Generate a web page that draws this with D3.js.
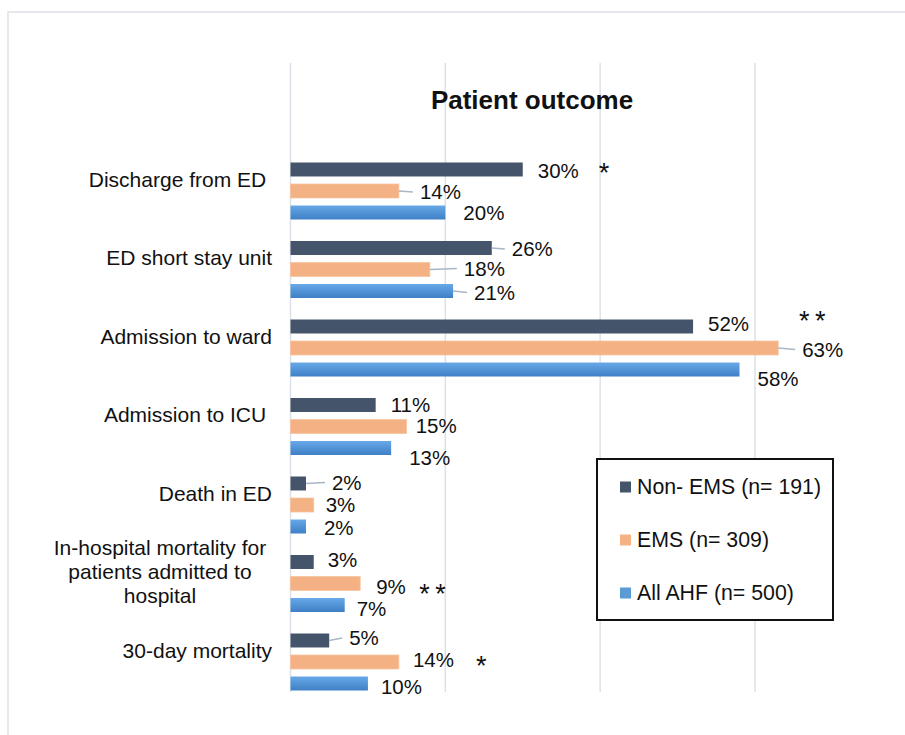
<!DOCTYPE html>
<html>
<head>
<meta charset="utf-8">
<script src="https://cdn.jsdelivr.net/npm/d3@7"></script>
<style>
  html, body { margin: 0; padding: 0; background: #fff; }
  svg { display: block; font-family: "Liberation Sans", Arial, sans-serif; }
</style>
</head>
<body>
<svg id="chart" width="905" height="735"></svg>
<script>
// ---------- data ----------
const categories = [
  "Discharge from ED ",
  "ED short stay unit",
  "Admission to ward",
  "Admission to ICU ",
  "Death in ED",
  "In-hospital mortality for\npatients admitted to\nhospital",
  "30-day mortality"
];
const seriesNames = ["Non- EMS (n= 191)", "EMS (n= 309)", "All AHF (n= 500)"];
const nonEMS = [30, 26, 52, 11, 2, 3, 5];
const ems    = [14, 18, 63, 15, 3, 9, 14];
const allAHF = [20, 21, 58, 13, 2, 7, 10];
const gridTicks = [0, 20, 40, 60];
const title = "Patient outcome";
// significance marks: [category index, series index, mark]
const sigMarks = [[0, 0, "*"], [2, 0, "**"], [5, 1, "**"], [6, 1, "*"]];

// ---------- layout tweaks (label placement, px) ----------
const labelDx = [[15, 20, 15, 15, 26, 14, 20], [21, 34, 24, 9, 12, 16, 14], [18, 21, 18, 18, 18, 12, 13]];
const labelDy = [[1.5, 1, -2.5, 0, -1, -2, -2.5], [1, -1, 1.5, -1, 0, 3.5, -2], [0.5, 1.5, 9.5, 9.5, 1, 4, 3.5]];
const leaders = [[0, 1], [0, 4], [0, 6], [1, 0], [1, 1], [1, 2], [2, 1]];
const sigOffsets = [[76, 13], [106, 4], [59, 19], [77, 12.7]];

const seriesValues = [nonEMS, ems, allAHF];
const colors = ["#44546a", "#f4b183", "url(#blueGrad)"];
const legendColors = ["#44546a", "#f4b183", "#5b9bd5"];

const svg = d3.select("#chart");
const defs = svg.append("defs");
const grad = defs.append("linearGradient").attr("id", "blueGrad")
  .attr("x1", 0).attr("y1", 0).attr("x2", 0).attr("y2", 1);
grad.append("stop").attr("offset", "0%").attr("stop-color", "#67a8e8");
grad.append("stop").attr("offset", "100%").attr("stop-color", "#3f80c6");

// frame
svg.append("rect").attr("x", 8).attr("y", 12).attr("width", 920).attr("height", 760)
  .attr("fill", "#fff").attr("stroke", "#dde1e7").attr("stroke-width", 1.5);

const x = d3.scaleLinear().domain([0, 60]).range([290.5, 755]);
const y = d3.scaleBand().domain(d3.range(categories.length)).range([151.75, 701.25]).padding(0);
const yInner = d3.scaleBand().domain(d3.range(3)).range([0, y.bandwidth()]).paddingInner(0.35).paddingOuter(0.5);

// gridlines
svg.append("g").selectAll("line").data(gridTicks).join("line")
  .attr("x1", d => x(d)).attr("x2", d => x(d))
  .attr("y1", 63).attr("y2", 692)
  .attr("stroke", "#dde1e7").attr("stroke-width", 1.5);

// title
svg.append("text").attr("x", 532).attr("y", 109).attr("text-anchor", "middle")
  .attr("font-size", 26).attr("font-weight", "bold").attr("fill", "#111").text(title);

// category labels
const catG = svg.append("g");
categories.forEach((c, i) => {
  const lines = c.split("\n");
  const cy = y(i) + y.bandwidth() / 2;
  if (lines.length === 1) {
    catG.append("text").attr("x", 272).attr("y", cy - 4.5)
      .attr("text-anchor", "end").attr("font-size", 21).attr("fill", "#111")
      .style("white-space", "pre").text(c);
  } else {
    const lh = 23.8;
    lines.forEach((ln, k) => {
      catG.append("text").attr("x", 160)
        .attr("y", cy - 4.5 + (k - (lines.length - 1) / 2) * lh)
        .attr("text-anchor", "middle").attr("font-size", 21).attr("fill", "#111").text(ln);
    });
  }
});

// bars
const barG = svg.append("g");
seriesValues.forEach((vals, s) => {
  barG.selectAll(null).data(vals).join("rect")
    .attr("x", x(0))
    .attr("y", (d, i) => y(i) + yInner(s))
    .attr("width", d => x(d) - x(0))
    .attr("height", yInner.bandwidth())
    .attr("fill", colors[s])
    .attr("stroke", s === 1 ? "#f7c4a0" : "none").attr("stroke-width", 0.8);
});

// leader lines + value labels
const isLeader = (s, i) => leaders.some(l => l[0] === s && l[1] === i);
seriesValues.forEach((vals, s) => {
  vals.forEach((v, i) => {
    const bx = x(v), by = y(i) + yInner(s) + yInner.bandwidth() / 2;
    const lx = bx + labelDx[s][i], ly = by + labelDy[s][i];
    if (isLeader(s, i)) {
      svg.append("line").attr("x1", bx).attr("y1", by).attr("x2", lx - 7).attr("y2", ly)
        .attr("stroke", "#a9b6c6").attr("stroke-width", 1.3);
    }
    svg.append("text").attr("x", lx).attr("y", ly).attr("dy", "0.35em")
      .attr("font-size", 20.5).attr("fill", "#111").text(v + "%");
  });
});

// significance marks
sigMarks.forEach((m, k) => {
  const [ci, si, mark] = m;
  const v = seriesValues[si][ci];
  const bx = x(v), by = y(ci) + yInner(si) + yInner.bandwidth() / 2;
  svg.append("text").attr("x", bx + sigOffsets[k][0]).attr("y", by + sigOffsets[k][1])
    .attr("font-size", 27).attr("letter-spacing", 5.5).attr("fill", "#111").text(mark);
});

// legend
const lg = svg.append("g");
lg.append("rect").attr("x", 597).attr("y", 459).attr("width", 236).attr("height", 161)
  .attr("fill", "#fff").attr("stroke", "#111").attr("stroke-width", 2);
const legY = [487, 540, 593];
seriesNames.forEach((n, i) => {
  lg.append("rect").attr("x", 620).attr("y", legY[i] - 5.5).attr("width", 11).attr("height", 11)
    .attr("fill", legendColors[i]);
  lg.append("text").attr("x", 637).attr("y", legY[i]).attr("dy", "0.35em")
    .attr("font-size", 21.3).attr("fill", "#111").text(n);
});
</script>
</body>
</html>
